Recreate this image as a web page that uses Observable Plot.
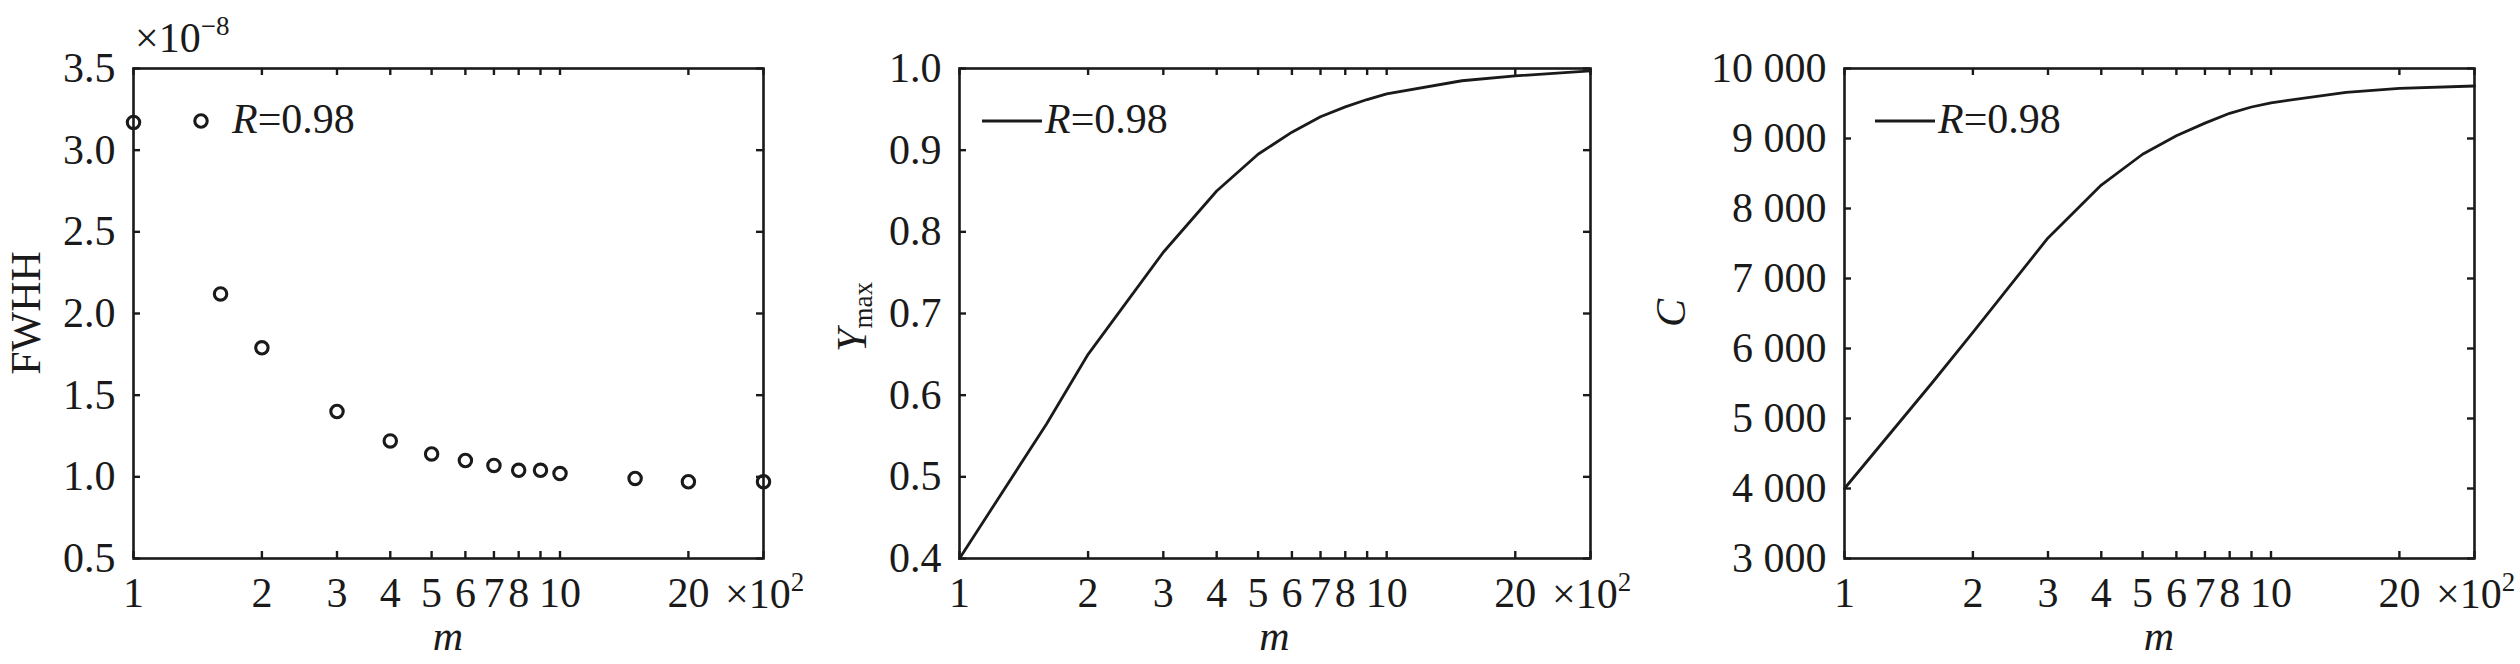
<!DOCTYPE html>
<html><head><meta charset="utf-8">
<script src="https://cdn.jsdelivr.net/npm/d3@7"></script>
<script src="https://cdn.jsdelivr.net/npm/@observablehq/plot@0.6"></script>
<style>
body{margin:0;background:#fff;}
#row{display:flex;width:2520px;height:664px;overflow:hidden;}
#row svg{display:block;flex:none;}
</style></head><body><div id="row"></div>
<script>
// m (×10²)
const mValues = [1, 1.6, 2, 3, 4, 5, 6, 7, 8, 9, 10, 15, 20, 30];
// FWHH (×10⁻⁸)
const fwhhValues = [3.17, 2.12, 1.79, 1.40, 1.22, 1.14, 1.10, 1.07, 1.04, 1.04, 1.02, 0.99, 0.97, 0.97];
// Y_max
const ymaxValues = [0.40, 0.565, 0.650, 0.775, 0.850, 0.895, 0.922, 0.941, 0.953, 0.962, 0.969, 0.985, 0.991, 0.997];
// C
const cValues = [4000, 5500, 6230, 7580, 8335, 8775, 9040, 9220, 9360, 9450, 9510, 9660, 9715, 9750];

const xTicks = [1, 2, 3, 4, 5, 6, 7, 8, 9, 10, 20, 30];
const xTickLabels = ["1", "2", "3", "4", "5", "6", "7", "8", "9", "10", "20", ""];
const yTicks1 = [0.5, 1.0, 1.5, 2.0, 2.5, 3.0, 3.5];
const yTicks2 = [0.4, 0.5, 0.6, 0.7, 0.8, 0.9, 1.0];
const yTicks3 = [3000, 4000, 5000, 6000, 7000, 8000, 9000, 10000];
const legendLabel = "0.98";

const INK = "#1a1a1a";
const H = 664, MT = 68, MB = 106, TL = 7;
const FONT = "'Liberation Serif', 'Times New Roman', serif";

function panel(cfg) {
  const {width, ml, mr, values, yDomain, yTicks, yFormat, kind} = cfg;
  const data = mValues.map((m, i) => ({m, v: values[i]}));
  const ph = H - MT - MB, pw = width - ml - mr;
  const marks = [
    Plot.tickX(xTicks, {x: d => d, insetTop: ph - TL, stroke: INK, strokeWidth: 2.4}),
    Plot.tickX(xTicks, {x: d => d, insetBottom: ph - TL, stroke: INK, strokeWidth: 2.4}),
    Plot.tickY(yTicks, {y: d => d, insetRight: pw - TL, stroke: INK, strokeWidth: 2.4}),
    Plot.tickY(yTicks, {y: d => d, insetLeft: pw - TL, stroke: INK, strokeWidth: 2.4}),
    Plot.frame({stroke: INK, strokeWidth: 2.6})
  ];
  if (kind === "dot") {
    marks.push(Plot.dot(data, {x: "m", y: "v", r: 6.2, stroke: INK, strokeWidth: 3.1, fill: "none"}));
  } else {
    marks.push(Plot.line(data, {x: "m", y: "v", stroke: INK, strokeWidth: 2.8}));
  }
  return Plot.plot({
    width, height: H,
    marginLeft: ml, marginRight: mr, marginTop: MT, marginBottom: MB,
    style: {fontFamily: FONT, fontSize: "42px", color: INK, background: "white", overflow: "visible"},
    x: {type: "log", domain: [1, 30], ticks: xTicks, tickSize: 0, tickPadding: 19,
        tickFormat: d => xTickLabels[xTicks.indexOf(d)], label: null},
    y: {domain: yDomain, ticks: yTicks, tickSize: 0, tickPadding: 18, tickFormat: yFormat, label: null},
    marks
  });
}

function addText(svg, attrs, parts) {
  const t = d3.select(svg).append("text")
    .attr("fill", INK).attr("font-family", FONT).attr("font-size", 42)
    .attr("text-anchor", "start");
  for (const [k, v] of Object.entries(attrs)) t.attr(k, v);
  for (const p of parts) {
    const s = t.append("tspan").text(p.t);
    if (p.italic) s.attr("font-style", "italic");
    if (p.size) s.attr("font-size", p.size);
    if (p.dy) s.attr("dy", p.dy);
  }
  return t;
}

const fmt1 = d => d.toFixed(1);
const fmtC = d => d3.format(",")(d).replace(/,/g, " ");

const cfgs = [
  {width: 840, ml: 133, mr: 77, values: fwhhValues, yDomain: [0.5, 3.5], yTicks: yTicks1, yFormat: fmt1, kind: "dot"},
  {width: 840, ml: 119, mr: 90, values: ymaxValues, yDomain: [0.4, 1.0], yTicks: yTicks2, yFormat: fmt1, kind: "line"},
  {width: 840, ml: 164, mr: 46, values: cValues, yDomain: [3000, 10000], yTicks: yTicks3, yFormat: fmtC, kind: "line"}
];

const row = document.getElementById("row");
cfgs.forEach((cfg, i) => {
  const svg = panel(cfg);
  row.appendChild(svg);
  const cx = cfg.ml + (cfg.width - cfg.ml - cfg.mr) / 2;
  const cy = MT + (H - MT - MB) / 2;
  // x label
  addText(svg, {x: cx, y: 650, "text-anchor": "middle"}, [{t: "m", italic: true}]);
  // ×10² at right end of x axis
  const xr = cfg.width - cfg.mr;
  addText(svg, {x: xr - 38, y: 608}, [{t: "×10"}, {t: "2", size: 27, dy: -17}]);
  // legend
  const ly = 121;
  if (cfg.kind === "dot") {
    d3.select(svg).append("circle").attr("cx", cfg.ml + 68).attr("cy", ly).attr("r", 6.2)
      .attr("fill", "none").attr("stroke", INK).attr("stroke-width", 3.1);
    addText(svg, {x: cfg.ml + 99, y: ly + 12}, [{t: "R", italic: true}, {t: "=" + legendLabel}]);
  } else {
    const l0 = i === 1 ? 23 : 31;
    d3.select(svg).append("line").attr("x1", cfg.ml + l0).attr("x2", cfg.ml + l0 + 60)
      .attr("y1", ly).attr("y2", ly).attr("stroke", INK).attr("stroke-width", 2.8);
    addText(svg, {x: cfg.ml + l0 + 63, y: ly + 12}, [{t: "R", italic: true}, {t: "=" + legendLabel}]);
  }
  // y labels
  if (i === 0) {
    addText(svg, {transform: `translate(40,${cy}) rotate(-90)`, "text-anchor": "middle"}, [{t: "FWHH"}]);
    addText(svg, {x: cfg.ml + 2, y: 52}, [{t: "×10"}, {t: "−8", size: 27, dy: -17}]);
  } else if (i === 1) {
    addText(svg, {transform: `translate(26,${cy + 4}) rotate(-90)`, "text-anchor": "middle"},
      [{t: "Y", italic: true}, {t: "max", size: 27, dy: 6}]);
  } else {
    addText(svg, {transform: `translate(5,${cy}) rotate(-90)`, "text-anchor": "middle"}, [{t: "C", italic: true}]);
  }
});
</script>
</body></html>
